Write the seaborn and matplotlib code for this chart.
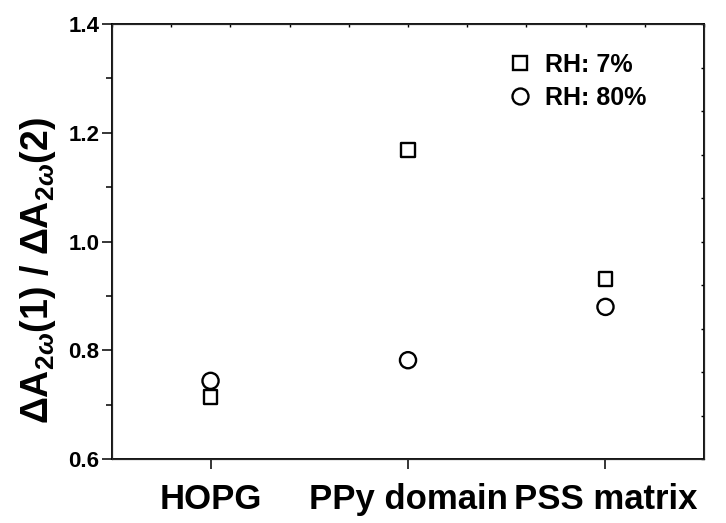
import numpy as np
import pandas as pd
import seaborn as sns
import matplotlib.pyplot as plt
from matplotlib.lines import Line2D

sns.set_style("ticks")
plt.rcParams["font.family"] = ["Liberation Sans", "DejaVu Sans"]
plt.rcParams["font.weight"] = "bold"
plt.rcParams["text.color"] = "black"
plt.rcParams["axes.labelcolor"] = "black"
plt.rcParams["xtick.color"] = "black"
plt.rcParams["ytick.color"] = "black"
plt.rcParams["mathtext.fontset"] = "custom"
plt.rcParams["mathtext.rm"] = "Liberation Sans:bold"
plt.rcParams["mathtext.it"] = "Liberation Sans:bold:italic"
plt.rcParams["mathtext.bf"] = "Liberation Sans:bold"

categories = ["HOPG", "PPy domain", "PSS matrix"]
rh7 = [0.715, 1.168, 0.931]
rh80 = [0.744, 0.782, 0.880]
series_names = ["RH: 7%", "RH: 80%"]

df = pd.DataFrame({
    "pos": [1, 2, 3] * 2,
    "ratio": rh7 + rh80,
    "RH": [series_names[0]] * 3 + [series_names[1]] * 3,
})

fig = plt.figure(figsize=(7.26, 5.23), dpi=100)
ax = fig.add_axes([0.154, 0.122, 0.816, 0.832])

sns.scatterplot(data=df[df["RH"] == series_names[0]], x="pos", y="ratio",
                marker="s", s=100, facecolors="none", edgecolors="black",
                linewidths=1.7, ax=ax, legend=False)
sns.scatterplot(data=df[df["RH"] == series_names[1]], x="pos", y="ratio",
                marker="o", s=135, facecolors="none", edgecolors="black",
                linewidths=1.7, ax=ax, legend=False)

ax.set_xlim(0.5, 3.5)
ax.set_ylim(0.6, 1.4)
ax.set_xticks([1, 2, 3])
ax.set_xticklabels(categories, fontsize=25, fontweight="bold")
ax.set_yticks(np.arange(0.6, 1.41, 0.2))
ax.set_yticklabels(["0.6", "0.8", "1.0", "1.2", "1.4"], fontsize=16, fontweight="bold")
ax.set_yticks(np.arange(0.7, 1.4, 0.2), minor=True)
ax.tick_params(axis="y", which="major", direction="out", length=7, width=1.1, pad=2)
ax.tick_params(axis="y", which="minor", direction="out", length=4, width=1.1)
ax.tick_params(axis="x", which="major", direction="out", length=7, width=1.1, pad=10)
ax.set_xlabel("")
ax.set_ylabel(r"$\Delta$A$_{2\omega}$(1) / $\Delta$A$_{2\omega}$(2)", fontsize=27,
              fontweight="bold")
ax.yaxis.set_label_coords(-0.09, 0.434)

for sp in ax.spines.values():
    sp.set_visible(True)
    sp.set_linewidth(1.3)
    sp.set_color("black")

# tiny inward ticks on top and right
ax_r = ax.twinx()
ax_r.set_ylim(0.6, 1.4)
ax_r.set_yticks(np.linspace(0.6, 1.4, 11))
ax_r.set_yticklabels([])
ax_r.tick_params(axis="y", direction="in", length=2, width=1)
ax_t = ax.twiny()
ax_t.set_xlim(0.5, 3.5)
ax_t.set_xticks(np.linspace(0.5, 3.5, 11))
ax_t.set_xticklabels([])
ax_t.tick_params(axis="x", direction="in", length=2, width=1)

handles = [
    Line2D([], [], marker="s", ls="", ms=10, mfc="none", mec="black", mew=1.7),
    Line2D([], [], marker="o", ms=11.5, ls="", mfc="none", mec="black", mew=1.7),
]
ax.legend(handles, series_names, loc="upper left", bbox_to_anchor=(0.63, 0.985),
          frameon=False, prop={"size": 18, "weight": "bold"},
          handletextpad=0.5, labelspacing=0.35, handlelength=1.0)

fig.savefig("out.png", dpi=100)
